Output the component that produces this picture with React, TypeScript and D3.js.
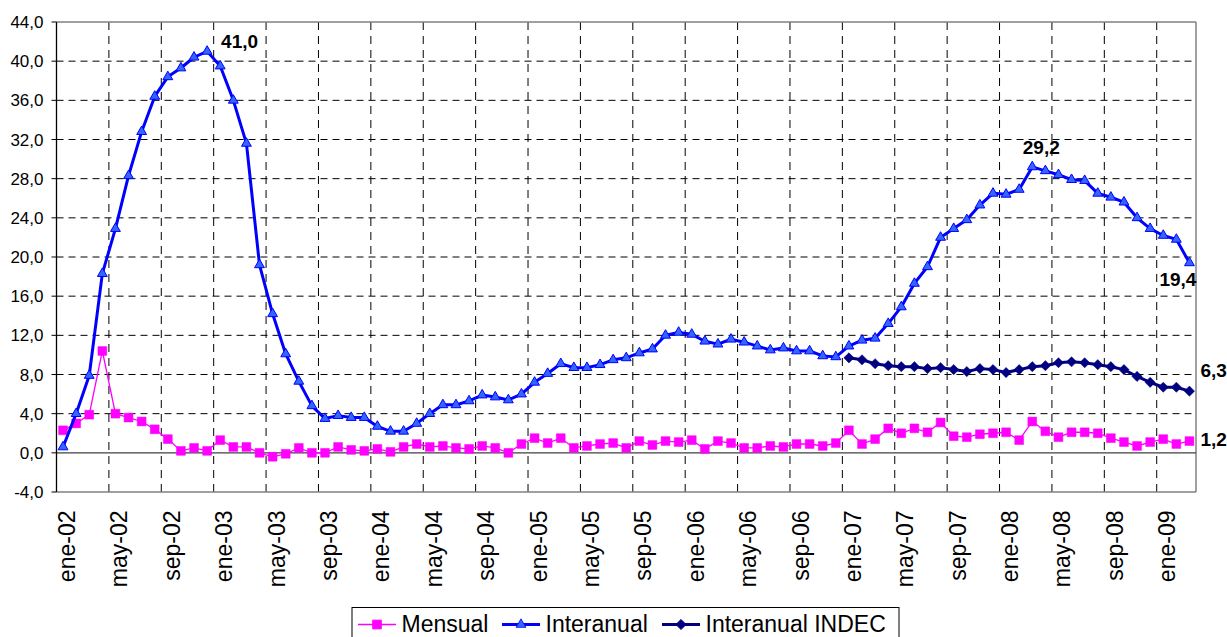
import * as d3 from 'd3';
import React from 'react';

const months = ["ene", "feb", "mar", "abr", "may", "jun", "jul", "ago", "sep", "oct", "nov", "dic"];
const years = ["02", "03", "04", "05", "06", "07", "08", "09"];
const nMonths = 87; // ene-02 .. mar-09

const categories: string[] = [];
years.forEach(yy => months.forEach(m => categories.push(m + "-" + yy)));
categories.length = nMonths;

const yTicks = [-4, 0, 4, 8, 12, 16, 20, 24, 28, 32, 36, 40, 44];

const mensual = [
  2.3, 3.0, 3.9, 10.4, 4.0, 3.6, 3.2, 2.4, 1.4, 0.2, 0.5, 0.2,
  1.3, 0.6, 0.6, 0.0, -0.4, -0.1, 0.5, 0.0, 0.0, 0.6, 0.3, 0.2,
  0.4, 0.1, 0.6, 0.9, 0.6, 0.7, 0.5, 0.4, 0.7, 0.5, 0.0, 0.9,
  1.5, 1.0, 1.5, 0.5, 0.7, 0.9, 1.0, 0.5, 1.2, 0.8, 1.2, 1.1,
  1.3, 0.4, 1.2, 1.0, 0.5, 0.5, 0.7, 0.6, 0.9, 0.9, 0.7, 1.0,
  2.3, 0.9, 1.4, 2.5, 2.0, 2.5, 2.1, 3.1, 1.7, 1.6, 1.9, 2.0,
  2.1, 1.3, 3.2, 2.2, 1.6, 2.1, 2.1, 2.0, 1.5, 1.1, 0.7, 1.1,
  1.4, 0.9, 1.2
];

const interanual = [
  0.6, 4.0, 7.9, 18.3, 22.9, 28.3, 32.8, 36.4, 38.4, 39.3, 40.4, 41.0,
  39.5, 36.0, 31.6, 19.2, 14.2, 10.1, 7.3, 4.8, 3.5, 3.8, 3.6, 3.6,
  2.7, 2.2, 2.2, 3.0, 4.0, 4.9, 4.9, 5.3, 5.9, 5.7, 5.4, 6.0,
  7.2, 8.1, 9.1, 8.7, 8.7, 9.0, 9.5, 9.7, 10.2, 10.6, 12.0, 12.3,
  12.1, 11.4, 11.1, 11.6, 11.3, 10.9, 10.5, 10.7, 10.4, 10.4, 9.9, 9.8,
  10.9, 11.5, 11.7, 13.2, 14.9, 17.3, 19.0, 22.0, 22.9, 23.8, 25.3, 26.5,
  26.4, 26.9, 29.2, 28.8, 28.4, 27.9, 27.8, 26.5, 26.1, 25.6, 24.0, 22.9,
  22.2, 21.8, 19.4
];

// Interanual INDEC starts at ene-07
const indecStart = 60;
const interanualIndec = [
  9.7, 9.5, 9.1, 8.9, 8.8, 8.8, 8.6, 8.7, 8.5, 8.3, 8.6, 8.5,
  8.2, 8.5, 8.8, 8.9, 9.2, 9.3, 9.2, 9.0, 8.8, 8.5, 7.8, 7.2,
  6.7, 6.7, 6.3
];

const W = 1227;
const H = 637;
const plot = { left: 56.5, right: 1196, top: 22, bottom: 492 };
const font = "'Liberation Sans', Arial, sans-serif";

function App() {
  const x = d3.scaleBand<string>().domain(categories).range([plot.left, plot.right]).padding(0);
  const bw = x.bandwidth();
  const xc = (i: number) => (x(categories[i]) as number) + bw / 2;
  const y = d3.scaleLinear().domain([-4, 44]).range([plot.bottom, plot.top]);

  const line = d3.line<[number, number]>().x(d => xc(d[0])).y(d => y(d[1]));
  const mPts: [number, number][] = mensual.map((v, i) => [i, v]);
  const iPts: [number, number][] = interanual.map((v, i) => [i, v]);
  const dPts: [number, number][] = interanualIndec.map((v, i) => [i + indecStart, v]);

  const sq = d3.symbol().type(d3.symbolSquare).size(78)() as string;
  const tri = d3.symbol().type(d3.symbolTriangle).size(42)() as string;
  const dia = d3.symbol().type(d3.symbolSquare).size(52)() as string;

  // vertical gridlines at category boundaries every 4 months
  const vGrid = d3.range(4, nMonths, 4).map(k => plot.left + k * bw);
  const tickIdx = d3.range(0, nMonths, 4);

  const lastI = nMonths - 1;
  const labels = [
    { t: "41,0", x: xc(11) + 14, y: y(41.0) - 3.5, a: "start" },
    { t: "29,2", x: xc(74) - 9.5, y: y(29.2) - 13, a: "start" },
    { t: "19,4", x: xc(lastI) + 7, y: y(19.4) + 23.5, a: "end" },
    { t: "6,3", x: xc(lastI) + 11, y: y(6.3) - 14, a: "start" },
    { t: "1,2", x: xc(lastI) + 11, y: y(1.2) + 5, a: "start" },
  ];

  const legend = [
    { name: "Mensual", x0: 358, color: "#FF00FF", w: 1.3, mark: sq, fill: "#FF00FF", stroke: "#FF00FF", rot: 0 },
    { name: "Interanual", x0: 502, color: "#0000FF", w: 3, mark: tri, fill: "#3366FF", stroke: "#0000FF", rot: 0 },
    { name: "Interanual INDEC", x0: 662, color: "#000080", w: 3, mark: dia, fill: "#000080", stroke: "#000080", rot: 45 },
  ];

  return (
    <svg width={W} height={H} style={{ position: "absolute", left: 0, top: 0, background: "#fff" }} fontFamily={font}>
      {/* horizontal gridlines */}
      {yTicks.filter(t => t !== -4 && t !== 0 && t !== 44).map(t => (
        <line key={"h" + t} x1={plot.left} x2={plot.right} y1={y(t)} y2={y(t)}
          stroke="#000" strokeWidth={1} strokeDasharray="7,5" />
      ))}
      {/* vertical gridlines */}
      {vGrid.map((gx, i) => (
        <line key={"v" + i} x1={gx} x2={gx} y1={plot.top} y2={plot.bottom}
          stroke="#000" strokeWidth={1} strokeDasharray="8,6" />
      ))}
      {/* plot border */}
      <line x1={plot.left} x2={plot.right} y1={plot.top} y2={plot.top} stroke="#808080" strokeWidth={1.5} />
      <line x1={plot.right} x2={plot.right} y1={plot.top} y2={plot.bottom} stroke="#808080" strokeWidth={1.5} />
      <line x1={plot.left} x2={plot.right} y1={plot.bottom} y2={plot.bottom} stroke="#808080" strokeWidth={1.5} />
      {/* zero axis */}
      <line x1={plot.left} x2={plot.right} y1={y(0)} y2={y(0)} stroke="#404040" strokeWidth={1.3} />
      {/* y axis */}
      <line x1={plot.left} x2={plot.left} y1={plot.top} y2={plot.bottom} stroke="#000" strokeWidth={1.3} />
      {yTicks.map(t => (
        <g key={"yt" + t}>
          <line x1={plot.left - 5} x2={plot.left} y1={y(t)} y2={y(t)} stroke="#000" strokeWidth={1} />
          <text x={43.5} y={y(t)} dy="0.36em" textAnchor="end" fontSize={17} fill="#000">
            {t.toFixed(1).replace(".", ",")}
          </text>
        </g>
      ))}
      {/* x labels */}
      {tickIdx.map(i => (
        <text key={"xl" + i} transform={`translate(${xc(i) + 12},${510.5}) rotate(-90)`}
          textAnchor="end" fontSize={23} fill="#000">{categories[i]}</text>
      ))}

      {/* Mensual */}
      <path d={line(mPts) as string} fill="none" stroke="#FF00FF" strokeWidth={1.3} />
      {mPts.map(([i, v]) => (
        <path key={"m" + i} d={sq} transform={`translate(${xc(i)},${y(v)})`} fill="#FF00FF" stroke="#FF00FF" strokeWidth={0.5} />
      ))}
      {/* Interanual */}
      <path d={line(iPts) as string} fill="none" stroke="#0000FF" strokeWidth={3} strokeLinejoin="round" />
      {iPts.map(([i, v]) => (
        <path key={"i" + i} d={tri} transform={`translate(${xc(i)},${y(v)})`} fill="#3366FF" stroke="#0000FF" strokeWidth={1} />
      ))}
      {/* Interanual INDEC */}
      <path d={line(dPts) as string} fill="none" stroke="#000080" strokeWidth={3} strokeLinejoin="round" />
      {dPts.map(([i, v]) => (
        <path key={"d" + i} d={dia} transform={`translate(${xc(i)},${y(v)}) rotate(45)`} fill="#000080" stroke="#000080" strokeWidth={0.5} />
      ))}

      {/* data labels */}
      {labels.map(l => (
        <text key={l.t} x={l.x} y={l.y} textAnchor={l.a as any} fontSize={19} fontWeight="bold" fill="#000">{l.t}</text>
      ))}

      {/* legend */}
      <rect x={352} y={607.5} width={547} height={40} fill="#fff" stroke="#000" strokeWidth={1} />
      {legend.map(l => (
        <g key={l.name}>
          <line x1={l.x0} x2={l.x0 + 38} y1={624.5} y2={624.5} stroke={l.color} strokeWidth={l.w} />
          <path d={l.mark} transform={`translate(${l.x0 + 19},624.5) rotate(${l.rot})`} fill={l.fill} stroke={l.stroke} strokeWidth={0.8} />
          <text x={l.x0 + 43.5} y={632} fontSize={23} fill="#000">{l.name}</text>
        </g>
      ))}
    </svg>
  );
}

export default App;
